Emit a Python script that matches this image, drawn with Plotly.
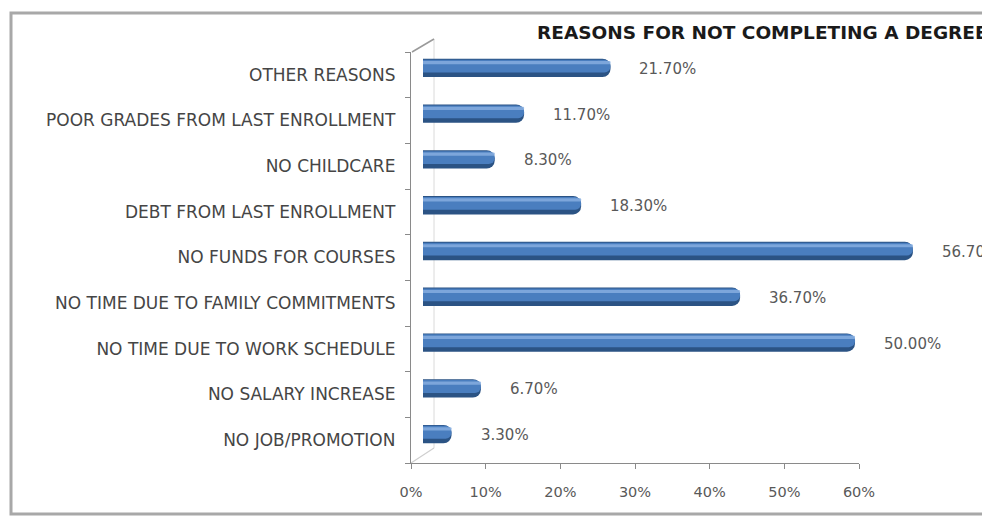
import plotly.graph_objects as go

# ---- data ----
categories = [
    "OTHER REASONS",
    "POOR GRADES FROM LAST ENROLLMENT",
    "NO CHILDCARE",
    "DEBT FROM LAST ENROLLMENT",
    "NO FUNDS FOR COURSES",
    "NO TIME DUE TO FAMILY COMMITMENTS",
    "NO TIME DUE TO WORK SCHEDULE",
    "NO SALARY INCREASE",
    "NO JOB/PROMOTION",
]
values = [21.7, 11.7, 8.3, 18.3, 56.7, 36.7, 50.0, 6.7, 3.3]
x_tick_values = [0, 10, 20, 30, 40, 50, 60]
x_tick_labels = ["0%", "10%", "20%", "30%", "40%", "50%", "60%"]
title_text = "REASONS FOR NOT COMPLETING A DEGREE"

# ---- layout helpers (pixel -> paper) ----
W, H = 982, 517
def fx(p):
    return p / W
def fy(p):
    return 1 - p / H

cat_order = categories[::-1]  # bottom -> top
FONT = "DejaVu Sans"

fig = go.Figure()

# 3D-ish cylinder bars: dark body, mid body, highlight
bar_layers = [
    dict(color="#2B5384", width=0.40, offset=-0.20, opacity=1.0),
    dict(color="#4A7EBF", width=0.28, offset=-0.10, opacity=1.0),
    dict(color="#86AEE0", width=0.07, offset=0.08, opacity=0.85),
]
for layer in bar_layers:
    fig.add_trace(go.Bar(
        x=values, y=categories, orientation="h",
        width=layer["width"], offset=layer["offset"],
        marker=dict(color=layer["color"], line=dict(width=0), cornerradius=8),
        opacity=layer["opacity"],
        xaxis="x", yaxis="y", showlegend=False, hoverinfo="skip",
    ))

# invisible trace carrying the front-plane category axis
fig.add_trace(go.Scatter(
    x=values, y=categories, mode="markers",
    marker=dict(opacity=0), xaxis="x2", yaxis="y2",
    showlegend=False, hoverinfo="skip",
))

# value labels
for c, v in zip(categories, values):
    fig.add_annotation(
        x=v, y=c, xref="x", yref="y", text=f"{v:.2f}%",
        xanchor="left", yanchor="middle", xshift=27, yshift=-1,
        showarrow=False, font=dict(family=FONT, size=15, color="#595959"),
    )

# title (cut at right edge like the reference)
fig.add_annotation(
    x=fx(535), y=fy(33), xref="paper", yref="paper",
    text=f"<b>{title_text}</b>", xanchor="left", yanchor="middle",
    showarrow=False, font=dict(family=FONT, size=18.5, color="#1a1a1a"),
)

# chart frame and 3D decorations
shapes = [
    dict(type="rect", xref="paper", yref="paper",
         x0=fx(11), x1=fx(1000), y0=fy(13), y1=fy(514),
         line=dict(color="#A8A8A8", width=3), fillcolor="rgba(0,0,0,0)", layer="below"),
    dict(type="line", xref="paper", yref="paper",
         x0=fx(412), y0=fy(52), x1=fx(434), y1=fy(39),
         line=dict(color="#9A9A9A", width=1.5)),
    dict(type="line", xref="paper", yref="paper",
         x0=fx(434), y0=fy(39), x1=fx(434), y1=fy(448),
         line=dict(color="#DADADA", width=1), layer="below"),
    dict(type="line", xref="paper", yref="paper",
         x0=fx(411), y0=fy(463), x1=fx(434), y1=fy(448),
         line=dict(color="#CFCFCF", width=1.2), layer="below"),
]

x0_px, px_per_unit = 423, 8.64
axis_grey = "#8A8A8A"

fig.update_layout(
    width=W, height=H,
    margin=dict(l=0, r=0, t=0, b=0, pad=0, autoexpand=False),
    paper_bgcolor="white", plot_bgcolor="rgba(0,0,0,0)",
    barmode="overlay",
    shapes=shapes,
    xaxis=dict(
        domain=[fx(411), 1.0], anchor="y", visible=False, automargin=False,
        range=[(411 - x0_px) / px_per_unit, (982 - x0_px) / px_per_unit],
    ),
    yaxis=dict(
        domain=[fy(457), fy(45)], anchor="x", visible=False, automargin=False,
        type="category", categoryorder="array", categoryarray=cat_order,
        range=[-0.5, len(categories) - 0.5],
    ),
    xaxis2=dict(
        domain=[fx(411), fx(859)], anchor="y2", automargin=False,
        range=[0, 60], tickmode="array",
        tickvals=x_tick_values, ticktext=x_tick_labels,
        showline=True, linecolor=axis_grey, linewidth=1.3,
        ticks="outside", ticklen=5, tickcolor=axis_grey,
        showgrid=False, zeroline=False, ticklabelstandoff=10,
        tickfont=dict(family=FONT, size=14.5, color="#595959"),
    ),
    yaxis2=dict(
        domain=[fy(463), fy(52)], anchor="x2", automargin=False,
        type="category", categoryorder="array", categoryarray=cat_order,
        range=[-0.5, len(categories) - 0.5],
        showline=True, linecolor=axis_grey, linewidth=1.3,
        ticks="outside", ticklen=5, tickcolor=axis_grey, tickson="boundaries",
        showgrid=False, zeroline=False, ticklabelstandoff=11,
        tickfont=dict(family=FONT, size=17, color="#454545"),
    ),
)

fig.write_html("out.html", config={"responsive": False})
